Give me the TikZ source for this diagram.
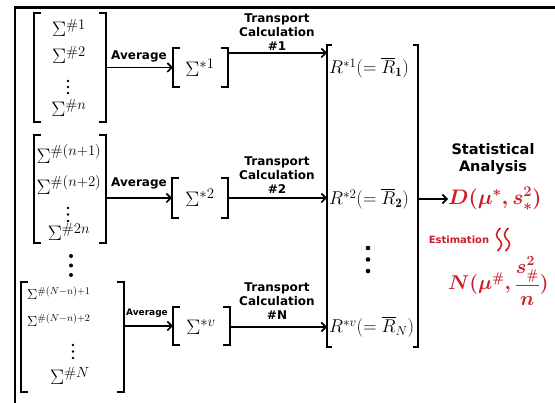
\RequirePackage{fix-cm}
\documentclass[tikz,border=0pt]{standalone}
\usepackage{amsmath}
\usepackage{fontspec}
\newfontfamily\lab{DejaVu Sans}
\usetikzlibrary{arrows.meta}
\definecolor{rd}{RGB}{204,30,40}
\newcommand\brks[2]{%
  \draw[brk] ([xshift=#2]#1.north west) -- (#1.north west) -- (#1.south west) -- ([xshift=#2]#1.south west);
  \draw[brk] ([xshift=-#2]#1.north east) -- (#1.north east) -- (#1.south east) -- ([xshift=-#2]#1.south east);}
\begin{document}
\begin{tikzpicture}[x=1pt,y=-1pt,
  arr/.style={line width=1.6pt,-{Straight Barb[length=4.5pt,width=9pt]}},
  brk/.style={line width=1.5pt},
  box/.style={inner sep=0pt,outer sep=0pt,draw=none},
  lbl/.style={font=\lab\bfseries\fontsize{12}{14}\selectfont,align=center,inner sep=0pt},
  mth/.style={font=\fontsize{21}{24}\selectfont,inner sep=0pt},
  rmth/.style={font=\fontsize{18.5}{22}\selectfont,inner sep=0pt},
  smth/.style={font=\fontsize{14.5}{17}\selectfont,inner sep=0pt},
  rtxt/.style={text=rd,inner sep=0pt},
  dot/.style={fill=black}]
\useasboundingbox (0,0) rectangle (555,403);
\draw[line width=2.5pt,line join=miter] (15,403) -- (15,7.5) -- (555,7.5);

% bracket groups
\node[box,minimum width=72pt,minimum height=109pt] (g1) at (70,67.5) {};
\node[box,minimum width=72pt,minimum height=108pt] (g2) at (70,189) {};
\node[box,minimum width=103pt,minimum height=110pt] (g3) at (72.5,337) {};
\node[box,minimum width=55pt,minimum height=39pt] (a1) at (200.5,67.5) {};
\node[box,minimum width=56pt,minimum height=40pt] (a2) at (200,198) {};
\node[box,minimum width=57pt,minimum height=38pt] (a3) at (201.5,326) {};
\node[box,minimum width=91pt,minimum height=302pt] (RB) at (372.5,196) {};
\brks{g1}{7pt}\brks{g2}{7pt}\brks{g3}{7pt}
\brks{a1}{7pt}\brks{a2}{7pt}\brks{a3}{7pt}
\brks{RB}{5pt}

% block 1 entries
\node[mth] (s11) at (69,28) {$\Sigma^{\#1}$};
\node[mth] (s12) at (69,55) {$\Sigma^{\#2}$};
\fill[dot] (68,81) circle (1.4) (68,87) circle (1.4) (68,93) circle (1.4);
\node[mth] (s1n) at (69,108) {$\Sigma^{\#n}$};
% block 2 entries
\node[mth] (s21) at (69,154) {$\Sigma^{\#(n+1)}$};
\node[mth] (s22) at (69,185) {$\Sigma^{\#(n+2)}$};
\fill[dot] (68,208) circle (1.4) (68,214.5) circle (1.4) (68,221) circle (1.4);
\node[mth] (s2n) at (69,232) {$\Sigma^{\#2n}$};
% dots between blocks
\fill[dot] (71,256) circle (2) (71,265.5) circle (2) (71,275) circle (2);
% block 3 entries
\node[smth,anchor=west] (s31) at (27,293) {$\Sigma^{\#(N-n)+1}$};
\node[smth,anchor=west] (s32) at (27,320) {$\Sigma^{\#(N-n)+2}$};
\fill[dot] (73,345) circle (1.4) (73,351.5) circle (1.4) (73,358) circle (1.4);
\node[mth] (s3n) at (70,376) {$\Sigma^{\#N}$};

% averaged
\node[mth] (m1) at (200,68) {$\Sigma^{*1}$};
\node[mth] (m2) at (200,198) {$\Sigma^{*2}$};
\node[mth] (m3) at (201,327) {$\Sigma^{*v}$};

% results
\node[rmth,anchor=west] (r1) at (329,68) {$R^{*1}(=\overline{R}_{\mathbf{1}})$};
\node[rmth,anchor=west] (r2) at (329,199) {$R^{*2}(=\overline{R}_{\mathbf{2}})$};
\node[rmth,anchor=west] (r3) at (329,327) {$R^{*v}(=\overline{R}_{N})$};
\fill[dot] (368,248) circle (2.3) (368,259.5) circle (2.3) (368,271) circle (2.3);

% average arrows
\draw[arr] (g1.east|-a1.west) -- (a1.west);
\draw[arr] (g2.east|-a2.west) -- (a2.west);
\draw[arr] (g3.east|-a3.west) -- (a3.west);
\node[lbl] (av1) at (139,56) {Average};
\node[lbl] (av2) at (139,183) {Average};
\node[lbl,font=\lab\bfseries\fontsize{9}{11}\selectfont] (av3) at (147,313) {Average};

% transport arrows
\coordinate (y1) at (0,53);
\coordinate (y2) at (0,198);
\coordinate (y3) at (0,327);
\draw[arr] (a1.east|-y1) -- (RB.west|-y1);
\draw[arr] (a2.east|-y2) -- (RB.west|-y2);
\draw[arr] (a3.east|-y3) -- (RB.west|-y3);
\node[lbl] (tc1) at (277,32) {Transport\\Calculation\\\#1};
\node[lbl] (tc2) at (277,175) {Transport\\Calculation\\\#2};
\node[lbl] (tc3) at (277,301) {Transport\\Calculation\\\#N};

% statistical analysis
\node[lbl,font=\lab\bfseries\fontsize{14.5}{17}\selectfont] (sa) at (493,159) {Statistical\\Analysis};
\node[rtxt,anchor=west,font=\boldmath\fontsize{21}{24}\selectfont] (dd) at (448,199) {$D(\mu^{*},s_{*}^{2})$};
\draw[arr] (RB.east|-dd.west) -- (dd.west);
\node[rtxt,font=\lab\bfseries\fontsize{10}{12}\selectfont] (est) at (459,240) {Estimation};
\foreach \xx in {499,507}
  \draw[rd,line width=1.6pt] (\xx+1.5,228) to[out=230,in=90] (\xx-2.5,234.5) to[out=-90,in=90] (\xx+2.5,244.5) to[out=-90,in=50] (\xx-1.5,251);
\node[rtxt,anchor=west,font=\boldmath\fontsize{20}{24}\selectfont] (nn) at (448,281) {$N(\mu^{\#},\dfrac{s_{\#}^{2}}{n})$};
\end{tikzpicture}
\end{document}
